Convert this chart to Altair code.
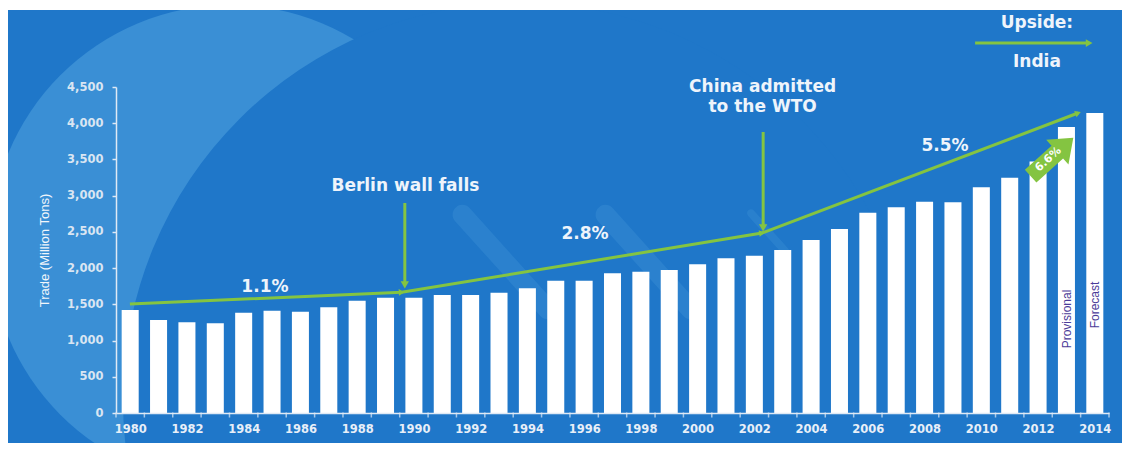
import math
import altair as alt
import pandas as pd

# ---------------- data ----------------
years = list(range(1980, 2015))
trade = [1422, 1284, 1252, 1238, 1385, 1412, 1399, 1459, 1550, 1592,
         1592, 1629, 1629, 1661, 1721, 1827, 1827, 1928, 1951, 1974,
         2052, 2135, 2172, 2250, 2388, 2540, 2765, 2839, 2917, 2908,
         3115, 3249, 3470, 3948, 4141]

x_label_years = list(range(1980, 2015, 2))
y_tick_values = list(range(0, 4501, 500))

# trend arrows (growth periods)
trend_x = [1979.99, 1989.57, 2002.27, 2013.41]
trend_y = [1505, 1666, 2485, 4141]

# event annotations
event_x = [1989.68, 2002.31]
event_top = [2899, 3879]
event_tip = [1767, 2554]
event_text_x = [1989.70, 2002.29, 2002.29]
event_text_y = [3134, 4500, 4224]
event_text = ["Berlin wall falls", "China admitted", "to the WTO"]

rate_x = [1984.75, 1996.03, 2008.72]
rate_y = [1739, 2471, 3686]
rate_text = ["1.1%", "2.8%", "5.5%"]

upside_x = [2011.96, 2011.96]
upside_y = [5383, 4845]
upside_text = ["Upside:", "India"]
upside_arrow_x = [2009.78, 2013.80]
upside_arrow_y = 5107

block_x, block_y = 2012.49, 3534
block_text_x, block_text_y = 2012.36, 3500
block_text = "6.6%"

status_x = [2013.02, 2014.01]
status_y = [1298, 1491]
status_text = ["Provisional", "Forecast"]

# ---------------- styling ----------------
W, H = 993, 326
PAD_L, PAD_T = 116, 87
BG = "#1f77c9"
LIGHT = "#3a8fd5"
GREEN = "#84c441"
TXT = "#eef4fb"
PURPLE = "#4b3b98"
BOLD_FONT = "DejaVu Sans"

x_dom = [1979.5, 2014.5]
y_dom = [0, 4500]
px_per_year = W / (x_dom[1] - x_dom[0])
px_per_unit = H / (y_dom[1] - y_dom[0])

xscale = alt.Scale(domain=x_dom, nice=False, zero=False)
yscale = alt.Scale(domain=y_dom, nice=False, zero=True)
xaxis = alt.Axis(values=x_label_years, format="d", title=None, grid=False,
                 ticks=False, tickSize=0, labelPadding=10, zindex=1,
                 labelFont=BOLD_FONT, labelFontWeight="bold", labelFontSize=11.5,
                 labelColor="#e8eff8", domainColor="#dfe9f5", domainWidth=1.5,
                 labelFlush=False)
yaxis = alt.Axis(values=y_tick_values, format=",d", title="Trade (Million Tons)",
                 grid=False, tickSize=4, tickColor="#dfe9f5", tickWidth=1.5, zindex=1,
                 labelPadding=9, labelFont=BOLD_FONT, labelFontWeight="bold",
                 labelFontSize=11.5, labelColor="#d9e5f2",
                 domainColor="#dfe9f5", domainWidth=1.5,
                 titleFont="Liberation Sans Narrow, Liberation Sans",
                 titleFontWeight="normal", titleFontSize=13, titleColor="#f2f6fb",
                 titleX=-72, titleY=H / 2, titleAngle=270, titleAlign="center",
                 titleBaseline="middle")


def X(f="x"):
    return alt.X(f"{f}:Q", scale=xscale, axis=xaxis)


def Y(f="y"):
    return alt.Y(f"{f}:Q", scale=yscale, axis=yaxis)


dummy = pd.DataFrame({"d": [0]})

# ---------------- background decoration ----------------
light = alt.Chart(dummy).mark_circle(color=LIGHT, opacity=1).encode(
    x=alt.value(230 - PAD_L), y=alt.value(245 - PAD_T), size=alt.value(480 ** 2))
inner = alt.Chart(dummy).mark_circle(color=BG, opacity=1).encode(
    x=alt.value(520 - PAD_L), y=alt.value(400 - PAD_T), size=alt.value(794 ** 2))

capsule = ("M-0.85,-0.13L0.85,-0.13A0.13,0.13 0 0 1 0.85,0.13"
           "L-0.85,0.13A0.13,0.13 0 0 1 -0.85,-0.13Z")
streak_specs = [(505, 262, 150, 0.45), (648, 262, 150, 0.45), (768, 232, 60, 0.4)]
streaks = [alt.Chart(dummy).mark_point(shape=capsule, filled=True, color=LIGHT,
                                       opacity=op, angle=48, strokeWidth=0).encode(
    x=alt.value(cx - PAD_L), y=alt.value(cy - PAD_T), size=alt.value(ln ** 2))
    for cx, cy, ln, op in streak_specs]

# ---------------- bars ----------------
bar_df = pd.DataFrame({"x": years, "y": trade})
bars = alt.Chart(bar_df).transform_calculate(
    x0="datum.x - 0.3", x1="datum.x + 0.3", y0="0"
).mark_bar(color="white").encode(x=X("x0"), x2="x1:Q", y=Y("y"), y2="y0:Q")

tick_df = pd.DataFrame({"x": [y - 0.5 for y in years] + [years[-1] + 0.5],
                        "y": [0] * (len(years) + 1)})
ticks = alt.Chart(tick_df).mark_tick(orient="vertical", size=5, thickness=1.5,
                                     yOffset=2, color="#dfe9f5").encode(x=X(), y=Y())

# ---------------- trend arrows ----------------
trend_df = pd.DataFrame({"x": trend_x, "y": trend_y, "o": list(range(len(trend_x)))})
trend = alt.Chart(trend_df).mark_line(color=GREEN, strokeWidth=3).encode(
    x=X(), y=Y(), order="o:Q")

head_rows = []
for i in range(1, len(trend_x)):
    dx = (trend_x[i] - trend_x[i - 1]) * px_per_year
    dy = -(trend_y[i] - trend_y[i - 1]) * px_per_unit
    ang = (math.degrees(math.atan2(dy, dx)) + 360) % 360
    head_rows.append({"x": trend_x[i], "y": trend_y[i], "a": ang})
head_df = pd.DataFrame(head_rows)
trend_heads = alt.Chart(head_df).mark_point(shape="triangle-right", filled=True,
                                            size=45, color=GREEN, opacity=1).encode(
    x=X(), y=Y(), angle=alt.Angle("a:Q", scale=None))

# ---------------- event arrows ----------------
ev_df = pd.DataFrame({"x": event_x, "y": event_top, "y2": event_tip})
ev_rules = alt.Chart(ev_df).mark_rule(color=GREEN, strokeWidth=3).encode(
    x=X(), y=Y(), y2="y2:Q")
ev_heads = alt.Chart(ev_df).mark_point(shape="triangle-down", filled=True, size=70,
                                       color=GREEN, opacity=1).encode(x=X(), y=Y("y2"))

ev_text_df = pd.DataFrame({"x": event_text_x, "y": event_text_y, "t": event_text})
ev_text = alt.Chart(ev_text_df).mark_text(font=BOLD_FONT, fontWeight="bold", fontSize=17,
                                          color=TXT, align="center", baseline="middle").encode(
    x=X(), y=Y(), text="t:N")

rate_df = pd.DataFrame({"x": rate_x, "y": rate_y, "t": rate_text})
rate_txt = alt.Chart(rate_df).mark_text(font=BOLD_FONT, fontWeight="bold", fontSize=17,
                                        color=TXT, align="center", baseline="middle").encode(
    x=X(), y=Y(), text="t:N")

# ---------------- upside ----------------
up_df = pd.DataFrame({"x": upside_x, "y": upside_y, "t": upside_text})
up_txt = alt.Chart(up_df).mark_text(font=BOLD_FONT, fontWeight="bold", fontSize=17,
                                    color=TXT, align="center", baseline="middle").encode(
    x=X(), y=Y(), text="t:N")
up_arrow_df = pd.DataFrame({"x": [upside_arrow_x[0]], "x2": [upside_arrow_x[1]],
                            "y": [upside_arrow_y]})
up_rule = alt.Chart(up_arrow_df).mark_rule(color=GREEN, strokeWidth=3).encode(
    x=X(), x2="x2:Q", y=Y())
up_head = alt.Chart(up_arrow_df).mark_point(shape="triangle-right", filled=True, size=60,
                                            color=GREEN, opacity=1).encode(x=X("x2"), y=Y())

# ---------------- 6.6% block arrow ----------------
blk_df = pd.DataFrame({"x": [block_x], "y": [block_y]})
blk = alt.Chart(blk_df).mark_point(
    shape="M-1,-0.3L0.25,-0.3L0.25,-0.58L1,0L0.25,0.58L0.25,0.3L-1,0.3Z",
    filled=True, size=3300, color=GREEN, opacity=1, angle=318, strokeWidth=0
).encode(x=X(), y=Y())
blk_t_df = pd.DataFrame({"x": [block_text_x], "y": [block_text_y], "t": [block_text]})
blk_t = alt.Chart(blk_t_df).mark_text(font=BOLD_FONT, fontWeight="bold", fontSize=11,
                                      color="white", angle=318, align="center",
                                      baseline="middle").encode(x=X(), y=Y(), text="t:N")

# ---------------- provisional / forecast ----------------
st_df = pd.DataFrame({"x": status_x, "y": status_y, "t": status_text})
st_txt = alt.Chart(st_df).mark_text(font="Liberation Sans", fontSize=12, color=PURPLE,
                                    angle=270, align="center", baseline="middle").encode(
    x=X(), y=Y(), text="t:N")

# ---------------- white frame ----------------
frame_specs = [
    (-PAD_L, 8 - PAD_L, -PAD_T, 453 - PAD_T),
    (-PAD_L, 1135 - PAD_L, -PAD_T, 10 - PAD_T),
    (1122 - PAD_L, 1135 - PAD_L, -PAD_T, 453 - PAD_T),
    (-PAD_L, 1135 - PAD_L, 443 - PAD_T, 453 - PAD_T),
]
frames = [alt.Chart(dummy).mark_rect(color="white").encode(
    x=alt.value(a), x2=alt.value(b), y=alt.value(c), y2=alt.value(d))
    for a, b, c, d in frame_specs]

chart = alt.layer(
    light, inner, *streaks, bars, ticks, trend, trend_heads, ev_rules, ev_heads,
    ev_text, rate_txt, up_txt, up_rule, up_head, blk, blk_t, st_txt, *frames
).properties(
    width=W, height=H,
    padding={"left": PAD_L, "top": PAD_T, "right": 1135 - PAD_L - W, "bottom": 453 - PAD_T - H},
    autosize=alt.AutoSizeParams(type="none"),
    background=BG,
).configure_view(stroke=None)

chart.save("out.html", embed_options={"renderer": "svg", "actions": False})
